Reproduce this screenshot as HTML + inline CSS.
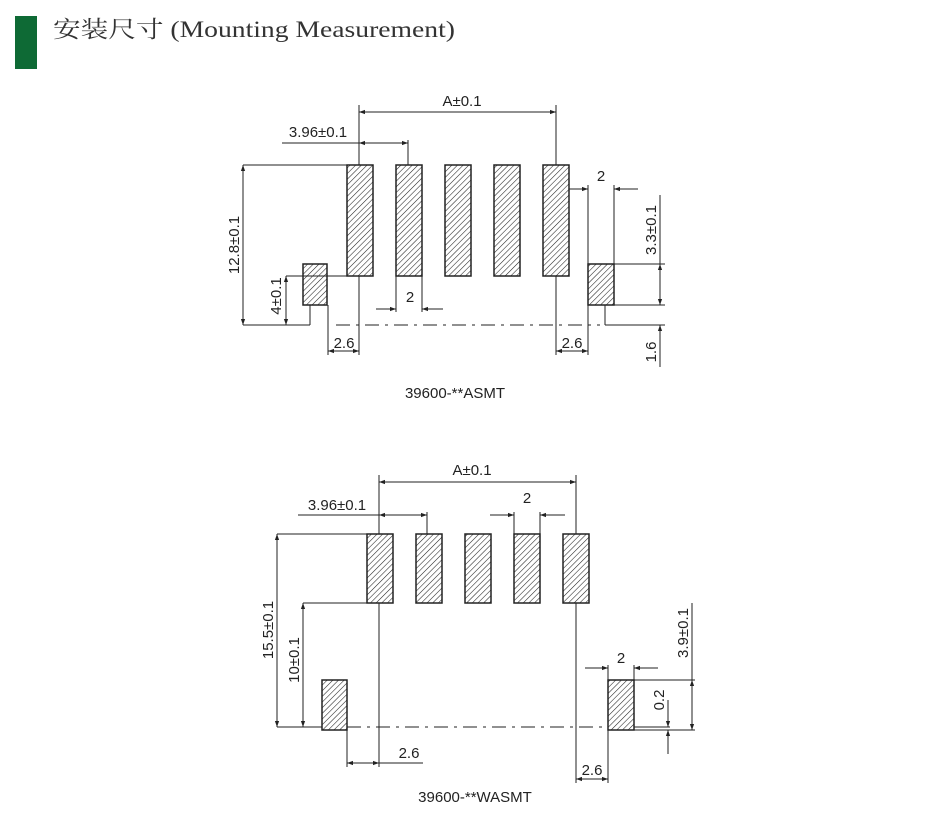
<!DOCTYPE html>
<html><head><meta charset="utf-8"><style>
html,body{margin:0;padding:0;background:#fff;width:946px;height:833px;overflow:hidden}
svg{display:block}
</style></head><body>
<svg width="946" height="833" viewBox="0 0 946 833" xmlns="http://www.w3.org/2000/svg">
<defs>
<pattern id="h" patternUnits="userSpaceOnUse" width="4" height="4" patternTransform="rotate(45)">
<rect width="4" height="4" fill="#fff"/><line x1="0" y1="0" x2="0" y2="4" stroke="#222" stroke-width="1.1"/>
</pattern>
<marker id="a" viewBox="0 0 10 10" refX="10" refY="5" markerWidth="8" markerHeight="6" orient="auto-start-reverse" markerUnits="userSpaceOnUse">
<path d="M0,1.5 L10,5 L0,8.5 z" fill="#222"/></marker>
</defs>
<rect x="15" y="16" width="22" height="53" fill="#0e6a35"/>
<text x="53" y="37" font-family="'Liberation Serif','Noto Serif CJK SC',serif" font-size="23" fill="#333" textLength="402" lengthAdjust="spacingAndGlyphs">安装尺寸 (Mounting Measurement)</text>

<g stroke="#222" stroke-width="1" fill="none" font-family="'Liberation Sans',sans-serif">
<g fill="url(#h)" stroke="#222" stroke-width="1.5">
<rect x="347" y="165" width="26" height="111"/><rect x="396" y="165" width="26" height="111"/>
<rect x="445" y="165" width="26" height="111"/><rect x="494" y="165" width="26" height="111"/>
<rect x="543" y="165" width="26" height="111"/>
<rect x="303" y="264" width="24" height="41"/><rect x="588" y="264" width="26" height="41"/>
</g>
<line x1="359" y1="105" x2="359" y2="165"/><line x1="556" y1="105" x2="556" y2="165"/>
<line x1="359" y1="112" x2="556" y2="112" marker-start="url(#a)" marker-end="url(#a)"/>
<line x1="282" y1="143" x2="359" y2="143"/>
<line x1="359" y1="143" x2="408" y2="143" marker-start="url(#a)" marker-end="url(#a)"/>
<line x1="408" y1="140" x2="408" y2="165"/>
<line x1="243" y1="165" x2="347" y2="165"/>
<line x1="243" y1="165" x2="243" y2="325" marker-start="url(#a)" marker-end="url(#a)"/>
<line x1="243" y1="325" x2="310" y2="325"/>
<line x1="286" y1="276" x2="347" y2="276"/>
<line x1="286" y1="276" x2="286" y2="325" marker-start="url(#a)" marker-end="url(#a)"/>
<line x1="310" y1="305" x2="310" y2="325"/>
<line x1="336" y1="325" x2="600" y2="325" stroke-dasharray="14,6,3,6"/>
<line x1="328" y1="305" x2="328" y2="355"/><line x1="359" y1="276" x2="359" y2="355"/>
<line x1="328" y1="351" x2="359" y2="351" marker-start="url(#a)" marker-end="url(#a)"/>
<line x1="396" y1="276" x2="396" y2="312"/><line x1="422" y1="276" x2="422" y2="312"/>
<line x1="376" y1="309" x2="396" y2="309" marker-end="url(#a)"/>
<line x1="443" y1="309" x2="422" y2="309" marker-end="url(#a)"/>
<line x1="556" y1="276" x2="556" y2="355"/><line x1="588" y1="305" x2="588" y2="355"/>
<line x1="556" y1="351" x2="588" y2="351" marker-start="url(#a)" marker-end="url(#a)"/>
<line x1="588" y1="185" x2="588" y2="264"/><line x1="614" y1="185" x2="614" y2="264"/>
<line x1="569" y1="189" x2="588" y2="189" marker-end="url(#a)"/>
<line x1="638" y1="189" x2="614" y2="189" marker-end="url(#a)"/>
<line x1="614" y1="264" x2="665" y2="264"/><line x1="614" y1="305" x2="665" y2="305"/>
<line x1="605" y1="305" x2="605" y2="325"/><line x1="605" y1="325" x2="665" y2="325"/>
<line x1="660" y1="195" x2="660" y2="264"/>
<line x1="660" y1="264" x2="660" y2="305" marker-start="url(#a)" marker-end="url(#a)"/>
<line x1="660" y1="325" x2="660" y2="367" marker-start="url(#a)"/>

<g fill="url(#h)" stroke="#222" stroke-width="1.5">
<rect x="367" y="534" width="26" height="69"/><rect x="416" y="534" width="26" height="69"/>
<rect x="465" y="534" width="26" height="69"/><rect x="514" y="534" width="26" height="69"/>
<rect x="563" y="534" width="26" height="69"/>
<rect x="322" y="680" width="25" height="50"/><rect x="608" y="680" width="26" height="50"/>
</g>
<line x1="379" y1="475" x2="379" y2="534"/><line x1="576" y1="475" x2="576" y2="534"/>
<line x1="379" y1="482" x2="576" y2="482" marker-start="url(#a)" marker-end="url(#a)"/>
<line x1="298" y1="515" x2="379" y2="515"/>
<line x1="379" y1="515" x2="427" y2="515" marker-start="url(#a)" marker-end="url(#a)"/>
<line x1="427" y1="512" x2="427" y2="534"/>
<line x1="514" y1="512" x2="514" y2="534"/><line x1="540" y1="512" x2="540" y2="534"/>
<line x1="490" y1="515" x2="514" y2="515" marker-end="url(#a)"/>
<line x1="565" y1="515" x2="540" y2="515" marker-end="url(#a)"/>
<line x1="277" y1="534" x2="367" y2="534"/>
<line x1="277" y1="534" x2="277" y2="727" marker-start="url(#a)" marker-end="url(#a)"/>
<line x1="277" y1="727" x2="322" y2="727"/>
<line x1="303" y1="603" x2="367" y2="603"/>
<line x1="303" y1="603" x2="303" y2="727" marker-start="url(#a)" marker-end="url(#a)"/>
<line x1="347" y1="727" x2="608" y2="727" stroke-dasharray="14,6,3,6"/>
<line x1="379" y1="603" x2="379" y2="767"/><line x1="347" y1="730" x2="347" y2="767"/>
<line x1="347" y1="763" x2="379" y2="763" marker-start="url(#a)" marker-end="url(#a)"/>
<line x1="379" y1="763" x2="423" y2="763"/>
<line x1="576" y1="603" x2="576" y2="783"/><line x1="608" y1="730" x2="608" y2="783"/>
<line x1="576" y1="779" x2="608" y2="779" marker-start="url(#a)" marker-end="url(#a)"/>
<line x1="608" y1="665" x2="608" y2="680"/><line x1="634" y1="665" x2="634" y2="680"/>
<line x1="585" y1="668" x2="608" y2="668" marker-end="url(#a)"/>
<line x1="658" y1="668" x2="634" y2="668" marker-end="url(#a)"/>
<line x1="634" y1="680" x2="695" y2="680"/><line x1="634" y1="730" x2="695" y2="730"/>
<line x1="634" y1="727" x2="670" y2="727"/>
<line x1="692" y1="603" x2="692" y2="680"/>
<line x1="692" y1="680" x2="692" y2="730" marker-start="url(#a)" marker-end="url(#a)"/>
<line x1="668" y1="700" x2="668" y2="727" marker-end="url(#a)"/>
<line x1="668" y1="754" x2="668" y2="730" marker-end="url(#a)"/>
</g>

<g font-family="'Liberation Sans',sans-serif" font-size="15" fill="#222">
<text x="462" y="106" text-anchor="middle">A±0.1</text>
<text x="318" y="137" text-anchor="middle">3.96±0.1</text>
<text x="601" y="181" text-anchor="middle">2</text>
<text x="410" y="302" text-anchor="middle">2</text>
<text x="344" y="348" text-anchor="middle">2.6</text>
<text x="572" y="348" text-anchor="middle">2.6</text>
<text transform="translate(239,245) rotate(-90)" text-anchor="middle">12.8±0.1</text>
<text transform="translate(281,296) rotate(-90)" text-anchor="middle">4±0.1</text>
<text transform="translate(656,230) rotate(-90)" text-anchor="middle">3.3±0.1</text>
<text transform="translate(656,352) rotate(-90)" text-anchor="middle">1.6</text>
<text x="455" y="398" text-anchor="middle">39600-**ASMT</text>

<text x="472" y="475" text-anchor="middle">A±0.1</text>
<text x="337" y="510" text-anchor="middle">3.96±0.1</text>
<text x="527" y="503" text-anchor="middle">2</text>
<text x="621" y="663" text-anchor="middle">2</text>
<text x="409" y="758" text-anchor="middle">2.6</text>
<text x="592" y="775" text-anchor="middle">2.6</text>
<text transform="translate(273,630) rotate(-90)" text-anchor="middle">15.5±0.1</text>
<text transform="translate(299,660) rotate(-90)" text-anchor="middle">10±0.1</text>
<text transform="translate(688,633) rotate(-90)" text-anchor="middle">3.9±0.1</text>
<text transform="translate(664,700) rotate(-90)" text-anchor="middle">0.2</text>
<text x="475" y="802" text-anchor="middle">39600-**WASMT</text>
</g>
</svg>
</body></html>
